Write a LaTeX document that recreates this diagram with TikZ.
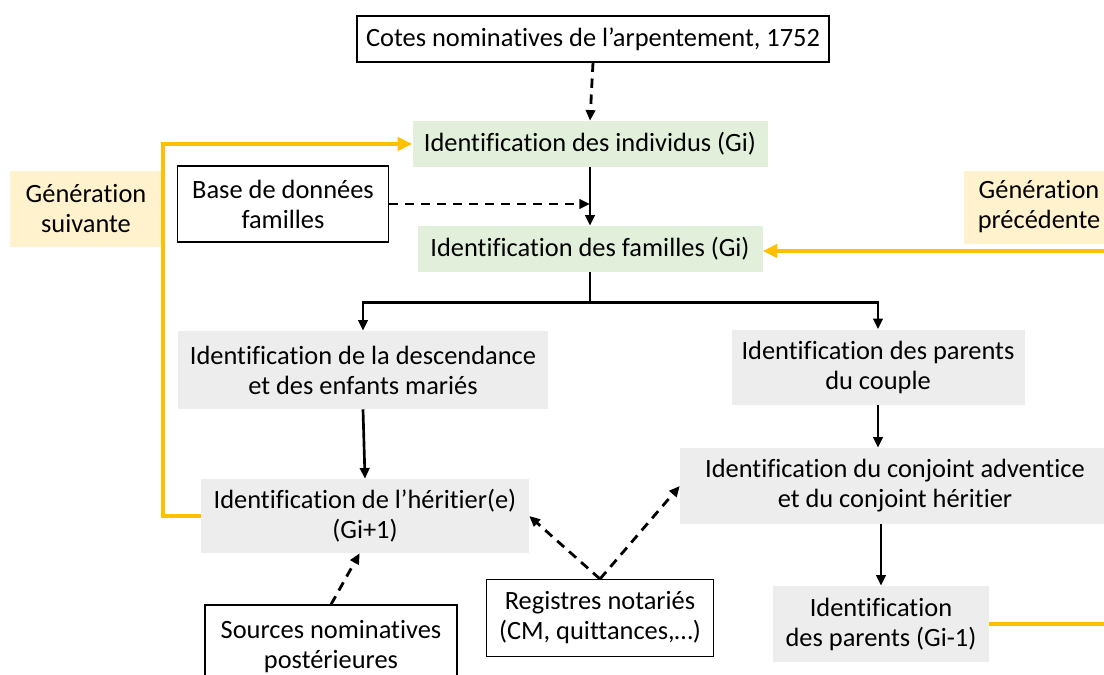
\documentclass[tikz,border=0pt]{standalone}
\usepackage{fontspec}
\setmainfont[Ligatures=NoCommon]{Carlito}
\usetikzlibrary{arrows.meta}
\definecolor{vert}{HTML}{E2EFDA}
\definecolor{gris}{HTML}{EDEDED}
\definecolor{jaune}{HTML}{FFC000}
\definecolor{creme}{HTML}{FFF2CC}

\begin{document}
\begin{tikzpicture}[x=0.75pt,y=-0.75pt,
    every node/.style={font=\fontsize{19.8}{22.5}\selectfont, align=center, inner sep=0pt},
    taille/.style 2 args={minimum width=#1*0.75pt, minimum height=#2*0.75pt},
    source/.style={draw=black, fill=white, line width=0.8pt},
    etape/.style={fill=vert},
    calcul/.style={fill=gris},
    generation/.style={fill=creme},
    fleche/.style={line width=2pt, -{Triangle[length=8pt,width=7pt]}},
    pointille/.style={fleche, line width=2.1pt, dash pattern=on 7pt off 5pt},
    boucle/.style={draw=jaune, line width=3pt},
    bouclefl/.style={boucle, -{Triangle[length=11pt,width=10pt]}}]
  \useasboundingbox (0,0) rectangle (1104,675);

  % sources
  \node[source, taille={472}{46}] (cotes) at (593,39) {Cotes nominatives de l’arpentement, 1752};
  \node[source, taille={211}{76}] (base) at (283,204) {Base de données\\familles};
  \node[source, taille={227}{77}] (reg) at (600,618) {Registres notariés\\(CM, quittances,…)};
  \node[source, taille={252}{84}] (post) at (331,647) {Sources nominatives\\postérieures};

  % etapes
  \node[etape, taille={355}{46}] (indiv) at (590,144) {Identification des individus (Gi)};
  \node[etape, taille={345}{46}] (fam) at (590,249) {Identification des familles (Gi)};
  \node[calcul, taille={370}{78}] (desc) at (363,370) {Identification de la descendance\\et des enfants mariés};
  \node[calcul, taille={293}{75}] (par) at (878,367) {Identification des parents\\du couple};
  \node[calcul, taille={328}{74}] (herit) at (365,516) {Identification de l’héritier(e)\\(Gi+1)};
  \node[calcul, taille={430}{76}] (conj) at (895,486) {Identification du conjoint adventice\\et du conjoint héritier};
  \node[calcul, taille={216}{76}] (parG) at (881,624) {Identification\\des parents (Gi-1)};

  % generations
  \node[generation, taille={152}{76}] (suiv) at (86,209) {Génération\\suivante};
  \node[generation, taille={150}{73}] (prec) at (1039,207) {Génération\\précédente};

  \coordinate (bordD) at (1104,251);
  \coordinate (bordB) at (1104,624);

  \draw[pointille] (cotes.south) -- (indiv.north);
  \draw[fleche] (indiv.south) -- (fam.north);
  \draw[pointille] (base.east) -- (base.east -| indiv.south);
  \draw[line width=2pt] (fam.south) -- ++(0,30) coordinate (bif);
  \draw[fleche] (bif) -| (desc.north);
  \draw[fleche] (bif) -| (par.north);
  \draw[fleche] (desc.south) -- (herit.north);
  \draw[fleche] (par.south) -- (par.south |- conj.north);
  \draw[fleche] (parG.north |- conj.south) -- (parG.north);
  \draw[pointille] (reg.north) -- (herit.east);
  \draw[pointille] (reg.north) -- (conj.west);
  \draw[pointille] (post.north) -- ([xshift=-4pt]herit.south);

  % retours de generation
  \draw[bouclefl] (herit.west) -- ++(-38,0) |- (indiv.west);
  \draw[bouclefl] (bordD) -- (fam.east |- bordD);
  \draw[boucle] (parG.east) -- (bordB);
\end{tikzpicture}
\end{document}
